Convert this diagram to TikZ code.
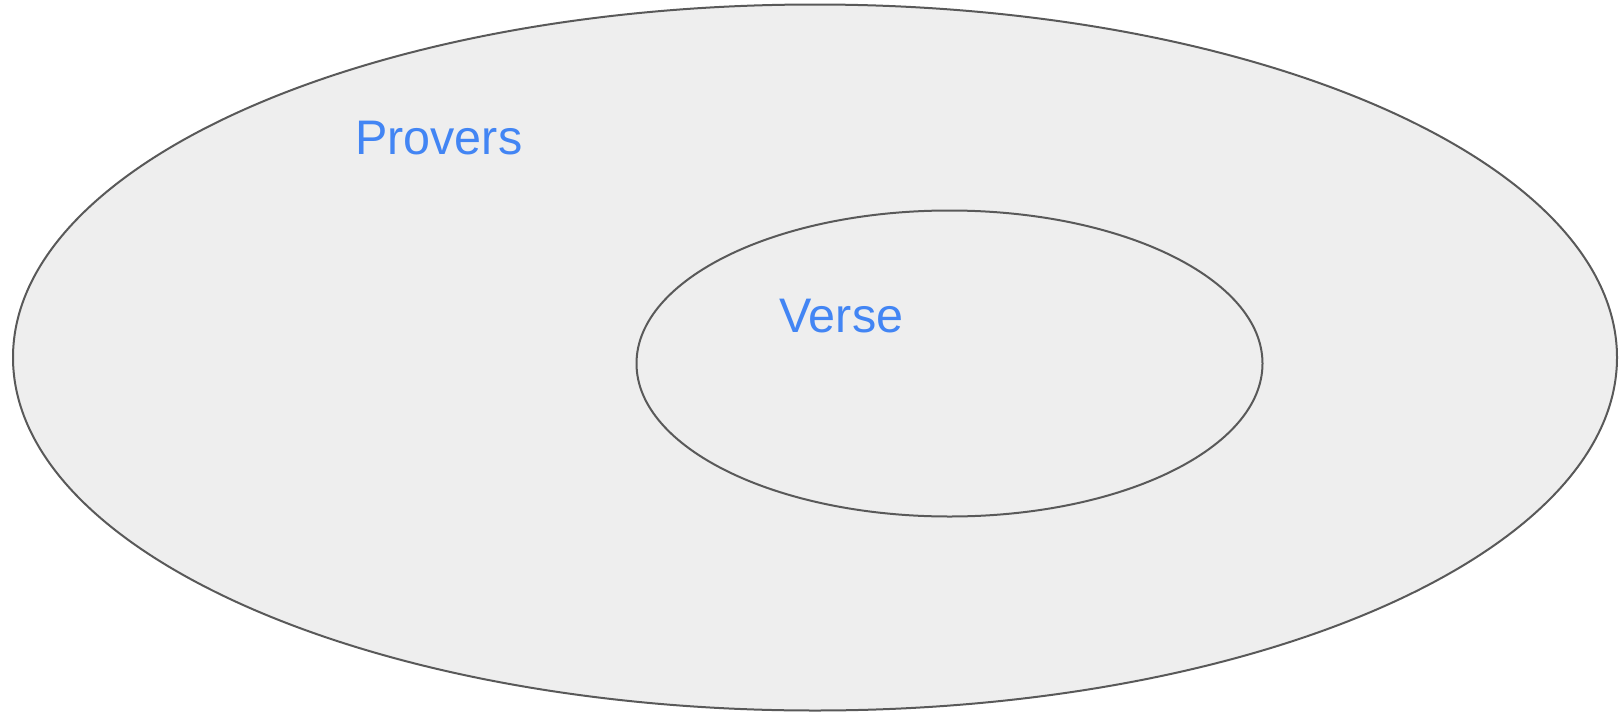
\documentclass[tikz,border=0pt]{standalone}
\usepackage{fontspec}
\setmainfont{Liberation Sans}
\definecolor{setfill}{HTML}{EEEEEE}
\definecolor{setline}{HTML}{595959}
\definecolor{setlabel}{HTML}{4285F4}
\begin{document}
\begin{tikzpicture}[x=1pt,y=-1pt]
  \tikzstyle{set}=[draw=setline,fill=setfill,line width=2pt]
  \tikzstyle{lbl}=[text=setlabel,inner sep=0pt,anchor=base west,font=\fontsize{48.5}{58}\selectfont]
  \useasboundingbox (0,0) rectangle (1622,715);
  \path[set] (815,357.5) ellipse [x radius=802,y radius=353];   % all provers
  \path[set] (949.5,363.5) ellipse [x radius=313,y radius=153]; % verse inside
  \node[lbl] (provers) at (355,154) {Provers};
  \node[lbl] (verse) at (779,332) {Verse};
\end{tikzpicture}
\end{document}
